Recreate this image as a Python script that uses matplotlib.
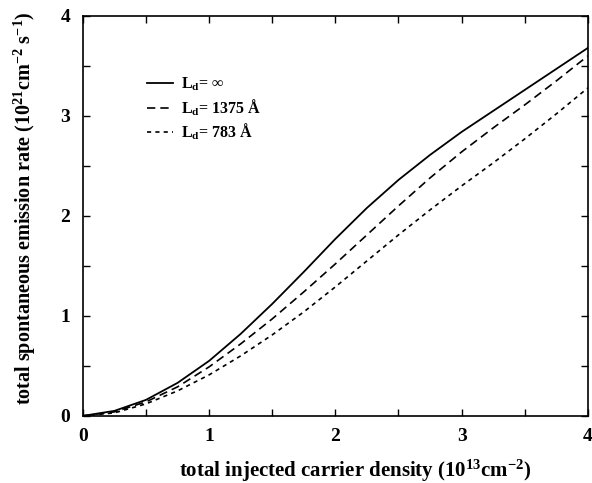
"""Total spontaneous emission rate vs injected carrier density"""

import matplotlib
matplotlib.use("Agg")
import matplotlib.pyplot as plt
from matplotlib.ticker import MultipleLocator

plt.rcParams['font.family'] = ['Liberation Serif', 'DejaVu Serif']
plt.rcParams['font.weight'] = 'bold'
plt.rcParams['mathtext.fontset'] = 'custom'
plt.rcParams['mathtext.rm'] = 'Liberation Serif:bold'
plt.rcParams['mathtext.it'] = 'Liberation Serif:bold'
plt.rcParams['mathtext.bf'] = 'Liberation Serif:bold'

# carrier density (1e13 cm^-2)
density = [0, 0.25, 0.5, 0.75, 1.0, 1.25, 1.5, 1.75, 2.0,
           2.25, 2.5, 2.75, 3.0, 3.25, 3.5, 3.75, 4.0]
# emission rate (1e21 cm^-2 s^-1)
rate_inf = [0, 0.05, 0.16, 0.33, 0.55, 0.82, 1.12, 1.44, 1.77,
            2.08, 2.36, 2.61, 2.84, 3.05, 3.26, 3.47, 3.68]
rate_1375 = [0, 0.04, 0.14, 0.29, 0.49, 0.72, 0.97, 1.24, 1.52,
             1.81, 2.10, 2.38, 2.64, 2.88, 3.11, 3.35, 3.60]
rate_783 = [0, 0.03, 0.12, 0.25, 0.41, 0.60, 0.81, 1.04, 1.29,
            1.55, 1.81, 2.06, 2.30, 2.53, 2.77, 3.02, 3.28]
labels = [r'$\mathrm{L_d}$= $\infty$', r'$\mathrm{L_d}$= 1375 Å', r'$\mathrm{L_d}$= 783 Å']

fig = plt.figure(figsize=(5.92, 4.83), dpi=100)
ax = fig.add_axes([0.140, 0.139, 0.853, 0.828])

ax.plot(density, rate_inf, 'k-', lw=1.3, label=labels[0])
ax.plot(density, rate_1375, 'k--', lw=1.2, dashes=(5, 3), label=labels[1])
ax.plot(density, rate_783, 'k--', lw=1.2, dashes=(2.5, 2.5), label=labels[2])

ax.set_xlim(0, 4)
ax.set_ylim(0, 4)
ax.xaxis.set_major_locator(MultipleLocator(1))
ax.yaxis.set_major_locator(MultipleLocator(1))
ax.xaxis.set_minor_locator(MultipleLocator(0.5))
ax.yaxis.set_minor_locator(MultipleLocator(0.5))
ax.tick_params(which='both', direction='in', top=True, right=True,
               length=5, width=1, labelsize=14, pad=9)
for s in ax.spines.values():
    s.set_linewidth(1.2)

ax.set_xlabel(r'total injected carrier density (10$^{13}$cm$^{-2}$)',
              fontsize=15, fontweight='bold')
ax.xaxis.set_label_coords(0.54, -0.105)
ax.set_ylabel(r'total spontaneous emission rate (10$^{21}$cm$^{-2}$ s$^{-1}$)',
              fontsize=14.5, fontweight='bold')
ax.yaxis.set_label_coords(-0.088, 0.52)

leg = ax.legend(loc='upper left', bbox_to_anchor=(0.127, 0.85), frameon=False,
                fontsize=11.5, handlelength=1.65, handletextpad=0.5, labelspacing=0.25,
                borderpad=0, borderaxespad=0)

fig.savefig("out.png", dpi=100)
